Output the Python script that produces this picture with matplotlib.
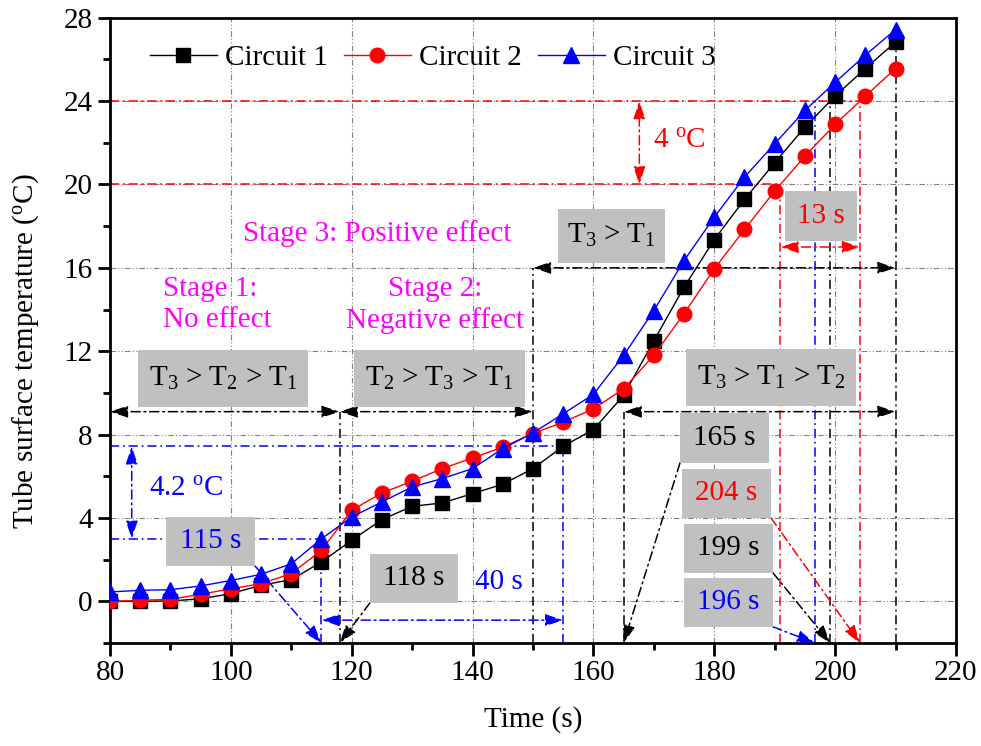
import matplotlib

matplotlib.use('Agg')
import matplotlib.pyplot as plt
from matplotlib.patches import Rectangle
from matplotlib.ticker import MultipleLocator
import numpy as np

# Данные
time = [80, 85, 90, 95, 100, 105, 110, 115, 120, 125, 130, 135, 140, 145,
        150, 155, 160, 165, 170, 175, 180, 185, 190, 195, 200, 205, 210]
circuit1 = [0.00, 0.00, 0.02, 0.12, 0.37, 0.77, 1.04, 1.89, 2.93, 3.92, 4.56, 4.72, 5.17, 5.62,
            6.37, 7.44, 8.24, 9.88, 12.50, 15.07, 17.35, 19.28, 21.04, 22.75, 24.24, 25.56, 26.83]
circuit2 = [0.00, 0.05, 0.10, 0.34, 0.60, 0.85, 1.33, 2.45, 4.37, 5.20, 5.76, 6.37, 6.88, 7.40,
            8.05, 8.60, 9.23, 10.20, 11.80, 13.80, 15.95, 17.84, 19.68, 21.36, 22.88, 24.24, 25.56]
circuit3 = [0.45, 0.53, 0.56, 0.74, 1.00, 1.30, 1.80, 3.00, 4.05, 4.77, 5.49, 5.89, 6.37, 7.33,
            8.08, 9.00, 9.93, 11.80, 13.95, 16.35, 18.43, 20.35, 21.95, 23.55, 24.90, 26.20, 27.43]
labels = ['Circuit 1', 'Circuit 2', 'Circuit 3']

# Ключевые моменты
stage_bounds = [80, 118, 150, 165, 210]
t_start3 = 115     # circuit 3 начинает расти
t_end3 = 155
level_lo, level_hi = 20, 24

plt.rcParams['font.family'] = 'Liberation Serif'
plt.rcParams['mathtext.fontset'] = 'custom'
plt.rcParams['mathtext.rm'] = 'Liberation Serif'
plt.rcParams['mathtext.it'] = 'Liberation Serif:italic'
plt.rcParams['font.size'] = 21

DD = (0, (6, 2.5, 1.2, 2.5))  # штрих-пунктир

fig = plt.figure(figsize=(9.81, 7.46), dpi=100)
ax = fig.add_axes([0.1121, 0.138, 0.8624, 0.8383])


def vline(x, y0, y1, color):
    ax.plot([x, x], [y0, y1], color=color, lw=1.1, linestyle=DD, zorder=2)


def hline(y, x0, x1, color):
    ax.plot([x0, x1], [y, y], color=color, lw=1.1, linestyle=DD, zorder=2)


def arrow(x0, y0, x1, y1, color, both=False):
    style = '<|-|>' if both else '-|>'
    ax.annotate('', xy=(x1, y1), xytext=(x0, y0), annotation_clip=False,
                arrowprops=dict(arrowstyle=f'{style},head_length=0.9,head_width=0.3',
                                color=color, lw=1.1, linestyle=DD,
                                shrinkA=0, shrinkB=0, mutation_scale=12), zorder=3)


def box(x0, x1, y0, y1, text, color='black'):
    ax.add_patch(Rectangle((x0, y0), x1 - x0, y1 - y0, facecolor='#c0c0c0',
                           edgecolor='none', zorder=4))
    ax.text((x0 + x1) / 2, (y0 + y1) / 2, text, color=color, ha='center',
            va='center', zorder=5)


# Пересечения уровней
c1_24 = np.interp(level_hi, circuit1, time)
c2_24 = np.interp(level_hi, circuit2, time)
c3_24 = np.interp(level_hi, circuit3, time)
c2_20 = np.interp(level_lo, circuit2, time)
y3 = np.interp(t_start3, time, circuit3)
y7 = np.interp(t_end3, time, circuit1)
ybot = -2

# Красные уровни
hline(level_hi, 80, c2_24, 'red')
hline(level_lo, 80, c2_20, 'red')
vline(c2_24, ybot, level_hi, 'red')
vline(c2_20, ybot, level_lo, 'red')
arrow(167.6, level_lo, 167.6, level_hi, 'red', both=True)
arrow(c2_20, 17, c2_24, 17, 'red', both=True)
ax.text(174.2, 22.1, '4 $^{\\mathrm{o}}$C', color='red', ha='center', va='center')

# Синие
vline(c3_24, ybot, level_hi, 'blue')
hline(y3, 80, t_start3, 'blue')
hline(y7, 80, t_end3, 'blue')
vline(t_start3, ybot, y3, 'blue')
vline(t_end3, ybot, y7, 'blue')
arrow(83.6, y3, 83.6, y7, 'blue', both=True)
arrow(t_start3, -0.9, t_end3, -0.9, 'blue', both=True)
ax.text(92.6, 5.4, '4.2 $^{\\mathrm{o}}$C', color='blue', ha='center', va='center')
ax.text(144.4, 0.94, '40 s', color='blue', ha='center', va='center')

# Чёрные
yst = 9.1
vline(stage_bounds[1], ybot, yst, 'black')
vline(stage_bounds[2], ybot, 16, 'black')
vline(stage_bounds[3], ybot, yst, 'black')
vline(stage_bounds[4], ybot, circuit3[-1], 'black')
vline(c1_24, ybot, level_hi, 'black')
arrow(stage_bounds[0], yst, stage_bounds[1], yst, 'black', both=True)
arrow(stage_bounds[1], yst, stage_bounds[2], yst, 'black', both=True)
arrow(stage_bounds[3], yst, stage_bounds[4], yst, 'black', both=True)
arrow(stage_bounds[2], 16, stage_bounds[4], 16, 'black', both=True)

# Кривые
ax.plot(time, circuit1, color='black', marker='s', ms=10, lw=1, label=labels[0], zorder=6)
ax.plot(time, circuit2, color='red', marker='o', ms=10.5, lw=1, label=labels[1], zorder=6)
ax.plot(time, circuit3, color='blue', marker='^', ms=11, lw=1, label=labels[2], zorder=6)

# Подписи в серых рамках
box(84.63, 112.77, 9.33, 12.06, 'T$_3$ > T$_2$ > T$_1$')
box(120.38, 148.67, 9.33, 12.06, 'T$_2$ > T$_3$ > T$_1$')
box(154.13, 171.84, 16.24, 18.83, 'T$_3$ > T$_1$')
box(175.32, 203.45, 9.38, 12.11, 'T$_3$ > T$_1$ > T$_2$')
box(174.33, 189.05, 6.64, 9.04, '165 s')
box(174.66, 189.39, 4.00, 6.35, '204 s', 'red')
box(175.0, 189.7, 1.37, 3.72, '199 s')
box(175.0, 189.7, -1.22, 1.13, '196 s', 'blue')
box(191.7, 203.6, 17.3, 19.69, '13 s', 'red')
box(89.27, 103.99, 1.70, 4.05, '115 s', 'blue')
box(123.03, 137.59, -0.07, 2.28, '118 s')

# Стрелки от рамок к оси
arrow(103.99, 1.70, t_start3, ybot, 'blue')
arrow(123.03, -0.07, stage_bounds[1], ybot, 'black')
arrow(174.33, 6.64, stage_bounds[3], ybot, 'black')
arrow(189.39, 4.00, c2_24, ybot, 'red')
arrow(189.7, 1.37, c1_24, ybot, 'black')
arrow(189.7, -1.22, c3_24, ybot, 'blue')

# Этапы
ax.text(124.27, 17.63, 'Stage 3: Positive effect', color='magenta', ha='center', va='center')
ax.text(88.77, 14.22, 'Stage 1:\nNo effect', color='magenta', ha='left', va='center',
        linespacing=1.25)
ax.text(133.78, 14.22, 'Stage 2:\nNegative effect', color='magenta', ha='center',
        va='center', linespacing=1.25, multialignment='center')

# Оси
ax.set_xlim(80, 220)
ax.set_ylim(-2, 28)
ax.xaxis.set_major_locator(MultipleLocator(20))
ax.xaxis.set_minor_locator(MultipleLocator(10))
ax.yaxis.set_major_locator(MultipleLocator(4))
ax.yaxis.set_minor_locator(MultipleLocator(2))
ax.tick_params(which='major', direction='out', length=9, width=2, labelsize=21)
ax.tick_params(which='minor', direction='out', length=5, width=2)
for s in ax.spines.values():
    s.set_linewidth(2)
ax.grid(True, which='major', color='gray', linestyle=(0, (5, 2, 1, 2, 1, 2)), lw=0.8)
ax.set_axisbelow(True)
ax.set_xlabel('Time (s)', fontsize=21, labelpad=14)
ax.set_ylabel('Tube surface temperature ($^{\\mathrm{o}}$C)', fontsize=21)
ax.yaxis.set_label_coords(-0.081, 0.466)

ax.legend(loc='center left', bbox_to_anchor=(0.03, 0.936), ncol=3, frameon=False,
          borderpad=0, handlelength=2.3, handletextpad=0.27, columnspacing=0.55,
          fontsize=21)

fig.savefig('out.png', dpi=100)
